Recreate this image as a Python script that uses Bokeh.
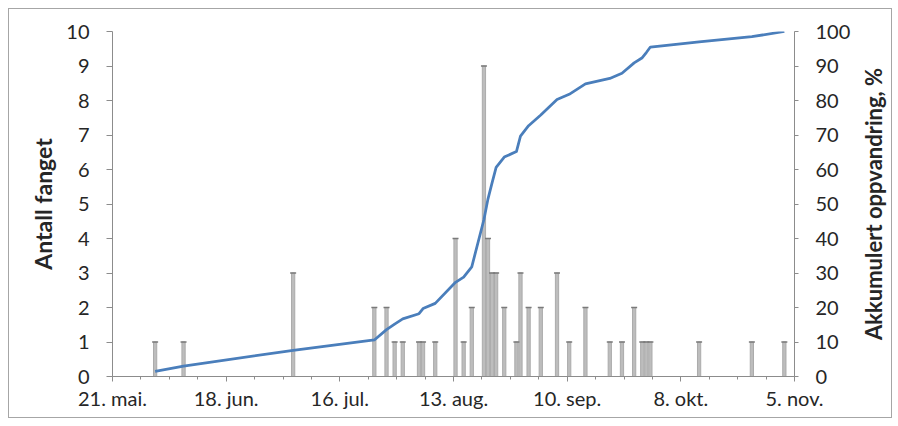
import pandas as pd
from bokeh.plotting import figure
from bokeh.layouts import row
from bokeh.models import Range1d, LinearAxis, FixedTicker, SingleIntervalTicker
from bokeh.embed import file_html
from bokeh.resources import INLINE

# fangstdatoer, antall fanget per dag og akkumulert oppvandring (%)
fangstdato = [
    "2013-05-31", "2013-06-07", "2013-07-04", "2013-07-24", "2013-07-27",
    "2013-07-29", "2013-07-31", "2013-08-04", "2013-08-05", "2013-08-08",
    "2013-08-13", "2013-08-15", "2013-08-17", "2013-08-20", "2013-08-21",
    "2013-08-22", "2013-08-23", "2013-08-25", "2013-08-28", "2013-08-29",
    "2013-08-31", "2013-09-03", "2013-09-07", "2013-09-10", "2013-09-14",
    "2013-09-20", "2013-09-23", "2013-09-26", "2013-09-28", "2013-09-29",
    "2013-09-30", "2013-10-12", "2013-10-25", "2013-11-02",
]
antall = [1, 1, 3, 2, 2, 1, 1, 1, 1, 1, 4, 1, 2, 9, 4, 3, 3, 2, 1, 3,
          2, 2, 3, 1, 2, 1, 1, 2, 1, 1, 1, 1, 1, 1]
akkumulert = [1.5, 3.0, 7.6, 10.6, 13.6, 15.2, 16.7, 18.2, 19.7, 21.2,
              27.3, 28.8, 31.8, 45.5, 51.5, 56.1, 60.6, 63.6, 65.2, 69.7,
              72.7, 75.8, 80.3, 81.8, 84.8, 86.4, 87.9, 90.9, 92.4, 93.9,
              95.5, 97.0, 98.5, 100.0]

tick_dates = ["2013-05-21", "2013-06-18", "2013-07-16", "2013-08-13",
              "2013-09-10", "2013-10-08", "2013-11-05"]
tick_labels = ["21. mai.", "18. jun.", "16. jul.", "13. aug.",
               "10. sep.", "8. okt.", "5. nov."]

FONT = "Lato"
AXIS_COL = "#8c8c8c"
TEXT_COL = "#262626"
DAY_MS = 24 * 3600 * 1000

x = pd.to_datetime(fangstdato) + pd.Timedelta(hours=12)


def ms(d):
    return pd.Timestamp(d).value / 1e6


def style_axis(ax):
    ax.axis_line_color = AXIS_COL
    ax.major_tick_line_color = AXIS_COL
    ax.minor_tick_line_color = AXIS_COL
    ax.major_tick_in = 0
    ax.minor_tick_in = 0
    ax.major_label_text_font = FONT
    ax.major_label_text_font_size = "20px"
    ax.major_label_text_color = TEXT_COL
    ax.axis_label_text_font = FONT
    ax.axis_label_text_font_size = "23px"
    ax.axis_label_text_font_style = "bold"
    ax.axis_label_text_color = TEXT_COL


p = figure(
    width=845, height=408,
    x_axis_type="datetime",
    x_range=Range1d(ms(tick_dates[0]), ms(tick_dates[-1])),
    y_range=Range1d(0, 10),
    output_backend="svg",
    toolbar_location=None,
    min_border_left=103, min_border_right=60,
    min_border_top=22, min_border_bottom=41,
)
p.extra_y_ranges = {"pst": Range1d(0, 100)}
p.xgrid.visible = False
p.ygrid.visible = False
p.outline_line_color = None

p.vbar(x=x, top=antall, width=0.8 * DAY_MS,
       fill_color="#bdbdbd", line_color="#ababab", line_width=1)
p.scatter(x, antall, marker="dash", size=6, line_color="#7a7a7a", line_width=1.5)
p.line(x, akkumulert, y_range_name="pst",
       line_color="#4a7ebb", line_width=2.75, line_join="round")

ax_r = LinearAxis(y_range_name="pst")
p.add_layout(ax_r, "right")

for ax in [p.xaxis[0], p.yaxis[0], ax_r]:
    style_axis(ax)

# x-akse
xa = p.xaxis[0]
xa.ticker = FixedTicker(
    ticks=[ms(d) for d in tick_dates],
    minor_ticks=[ms(d) for d in pd.date_range(tick_dates[0], tick_dates[-1], freq="7D")],
)
xa.major_label_overrides = {ms(d): lab for d, lab in zip(tick_dates, tick_labels)}
xa.major_tick_out = 5
xa.minor_tick_out = 3
xa.major_label_standoff = 4

# venstre akse
ya = p.yaxis[0]
ya.axis_label = "Antall fanget"
ya.ticker = SingleIntervalTicker(interval=1, num_minor_ticks=0)
ya.major_tick_out = 6
ya.major_label_standoff = 17
ya.axis_label_standoff = 6

# høyre akse
ax_r.ticker = SingleIntervalTicker(interval=10, num_minor_ticks=0)
ax_r.major_tick_out = 4
ax_r.major_label_standoff = 17

# smal stripe til høyre med aksetittelen, lest nedenfra og opp
p_t = figure(
    width=37, height=408,
    x_range=Range1d(0, 1), y_range=Range1d(0, 1),
    output_backend="svg",
    toolbar_location=None,
    min_border_left=32, min_border_right=0,
    min_border_top=22, min_border_bottom=41,
)
p_t.xaxis.visible = False
p_t.xgrid.visible = False
p_t.ygrid.visible = False
p_t.outline_line_color = None
yt = p_t.yaxis[0]
style_axis(yt)
yt.axis_label = "Akkumulert oppvandring, %"
yt.axis_label_text_font_size = "22px"
yt.ticker = FixedTicker(ticks=[])
yt.axis_line_color = None
yt.major_tick_out = 0
yt.major_label_standoff = 0
yt.axis_label_standoff = 0

layout = row(p, p_t)
layout.styles = {"border": "1px solid #a6a6a6", "margin": "8px"}

open("out.html", "w").write(file_html(layout, INLINE))
